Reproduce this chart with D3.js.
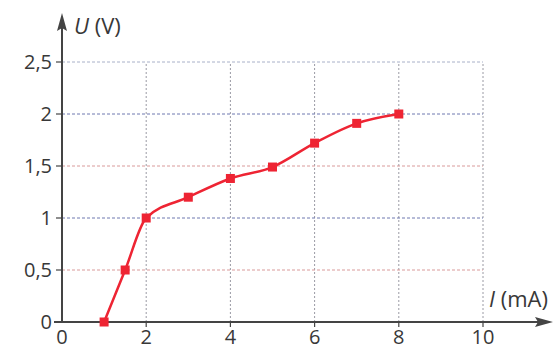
<!DOCTYPE html>
<html>
<head>
<meta charset="utf-8">
<script src="https://cdn.jsdelivr.net/npm/d3@7"></script>
<style>
  body { margin: 0; background: #fff; }
  text { font-family: "Open Sans", sans-serif; fill: #383838; }
</style>
</head>
<body>
<div id="chart"></div>
<script>
// measured points: current I (mA) and voltage U (V)
const currentI = [1, 1.5, 2, 3, 4, 5, 6, 7, 8];
const voltageU = [0, 0.5, 1, 1.2, 1.38, 1.49, 1.72, 1.91, 2.0];
const xTicks = [0, 2, 4, 6, 8, 10];
const yTicks = [0, 0.5, 1, 1.5, 2, 2.5];
const yTickLabels = ["0", "0,5", "1", "1,5", "2", "2,5"];

const width = 559, height = 351;

const x = d3.scaleLinear().domain([0, 10]).range([62, 483]);
const y = d3.scaleLinear().domain([0, 2.5]).range([322, 62]);

const svg = d3.select("#chart")
    .append("svg")
    .attr("width", width)
    .attr("height", height);

// grid, dotted
const gridColor = d => (d === 0.5 || d === 1.5) ? "#d99a9a" : (d === 2.5 ? "#a8b0c8" : "#6f78b0");

svg.append("g")
    .selectAll("line")
    .data(xTicks.slice(1))
    .join("line")
    .attr("x1", d => x(d)).attr("x2", d => x(d))
    .attr("y1", y(0)).attr("y2", y(2.5))
    .attr("stroke", "#9a9aa4")
    .attr("stroke-width", 1)
    .attr("stroke-dasharray", "2,2");

svg.append("g")
    .selectAll("line")
    .data(yTicks.slice(1))
    .join("line")
    .attr("x1", x(0)).attr("x2", x(10))
    .attr("y1", d => y(d)).attr("y2", d => y(d))
    .attr("stroke", gridColor)
    .attr("stroke-width", 1)
    .attr("stroke-dasharray", "3,2");

// axes
const axisColor = "#444";
svg.append("line")
    .attr("x1", 54).attr("x2", 540)
    .attr("y1", y(0)).attr("y2", y(0))
    .attr("stroke", axisColor).attr("stroke-width", 2);
svg.append("path")
    .attr("d", `M553,${y(0)} L535,${y(0) - 5} L538,${y(0)} L535,${y(0) + 5} Z`)
    .attr("fill", axisColor);

svg.append("line")
    .attr("x1", x(0)).attr("x2", x(0))
    .attr("y1", y(0)).attr("y2", 28)
    .attr("stroke", axisColor).attr("stroke-width", 2);
svg.append("path")
    .attr("d", `M${x(0)},13 L${x(0) - 5},31 L${x(0)},28 L${x(0) + 5},31 Z`)
    .attr("fill", axisColor);

// tick marks
svg.append("g")
    .selectAll("line")
    .data(yTicks.slice(1))
    .join("line")
    .attr("x1", x(0) - 6).attr("x2", x(0))
    .attr("y1", d => y(d)).attr("y2", d => y(d))
    .attr("stroke", axisColor).attr("stroke-width", 1.2);
svg.append("g")
    .selectAll("line")
    .data(xTicks.slice(1))
    .join("line")
    .attr("x1", d => x(d)).attr("x2", d => x(d))
    .attr("y1", y(0)).attr("y2", y(0) + 5)
    .attr("stroke", axisColor).attr("stroke-width", 1.2);

// tick labels
svg.append("g")
    .selectAll("text")
    .data(yTicks)
    .join("text")
    .attr("x", 52)
    .attr("y", d => y(d) + 7)
    .attr("text-anchor", "end")
    .style("font-size", "20px")
    .text((d, i) => yTickLabels[i]);

svg.append("g")
    .selectAll("text")
    .data(xTicks)
    .join("text")
    .attr("x", d => x(d))
    .attr("y", 344)
    .attr("text-anchor", "middle")
    .style("font-size", "20px")
    .text(d => d);

// axis titles
const yTitle = svg.append("text")
    .attr("x", 74).attr("y", 34)
    .style("font-size", "22px");
yTitle.append("tspan").style("font-style", "italic").text("U");
yTitle.append("tspan").text(" (V)");

const xTitle = svg.append("text")
    .attr("x", 489).attr("y", 307)
    .style("font-size", "22px");
xTitle.append("tspan").style("font-style", "italic").text("I");
xTitle.append("tspan").text(" (mA)");

// curve
const pts = currentI.map((d, i) => [d, voltageU[i]]);
const red = "#ee2433";

svg.append("path")
    .datum(pts)
    .attr("fill", "none")
    .attr("stroke", red)
    .attr("stroke-width", 2.5)
    .attr("d", d3.line()
        .x(d => x(d[0]))
        .y(d => y(d[1]))
        .curve(d3.curveMonotoneX));

svg.append("g")
    .selectAll("rect")
    .data(pts)
    .join("rect")
    .attr("x", d => x(d[0]) - 4.5)
    .attr("y", d => y(d[1]) - 4.5)
    .attr("width", 9)
    .attr("height", 9)
    .attr("fill", red);
</script>
</body>
</html>
